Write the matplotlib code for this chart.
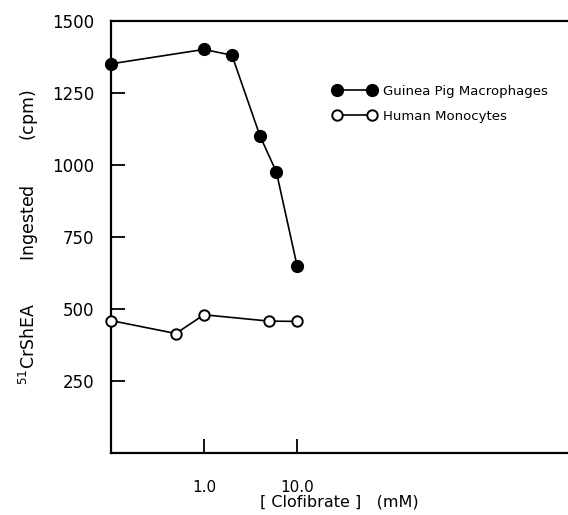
import matplotlib
matplotlib.use("Agg")
import matplotlib.pyplot as plt
from matplotlib.ticker import FixedLocator, NullLocator

# clofibrate concentration (mM)
gp_conc = [0.1, 1.0, 2.0, 4.0, 6.0, 10.0]
gp_cpm = [1350, 1400, 1380, 1100, 975, 650]

hm_conc = [0.1, 0.5, 1.0, 5.0, 10.0]
hm_cpm = [460, 415, 480, 458, 457]

xtick_vals = [1.0, 10.0]
xtick_labels = ["1.0", "10.0"]
ytick_vals = [250, 500, 750, 1000, 1250, 1500]

plt.rcParams['font.family'] = ['DejaVu Sans']

fig = plt.figure(figsize=(5.68, 5.15), dpi=100)
ax = fig.add_axes([0.195, 0.12, 0.805, 0.84])

ax.plot(gp_conc, gp_cpm, color="black", lw=1.2, marker="o", ms=8.5,
        mfc="black", mec="black", clip_on=False, zorder=3,
        label="Guinea Pig Macrophages")
ax.plot(hm_conc, hm_cpm, color="black", lw=1.2, marker="o", ms=7.5,
        mfc="white", mec="black", mew=1.4, clip_on=False, zorder=3,
        label="Human Monocytes")

ax.set_xscale("log")
ax.set_xlim(0.1, 8100)
ax.set_ylim(0, 1500)

ax.xaxis.set_major_locator(FixedLocator(xtick_vals))
ax.xaxis.set_minor_locator(NullLocator())
ax.set_xticklabels(xtick_labels)
ax.set_yticks(ytick_vals)
ax.set_yticklabels([str(v) for v in ytick_vals])

ax.tick_params(axis="x", direction="in", length=10, width=1.3, pad=19, labelsize=11)
ax.tick_params(axis="y", direction="in", length=10, width=1.3, pad=12, labelsize=12)

ax.spines["right"].set_visible(False)
for s in ["left", "bottom", "top"]:
    ax.spines[s].set_linewidth(1.6)

ax.set_ylabel(r"$^{51}$CrShEA        Ingested        (cpm)", fontsize=12.5, labelpad=8)
ax.set_xlabel("[ Clofibrate ]   (mM)", fontsize=11.5, labelpad=0)

ax.legend(loc="upper left", bbox_to_anchor=(0.565, 0.858), bbox_transform=fig.transFigure,
          frameon=False, numpoints=2, handlelength=3.3, handletextpad=0.5,
          labelspacing=0.9, fontsize=9.5)

fig.savefig("out.png", dpi=100)
